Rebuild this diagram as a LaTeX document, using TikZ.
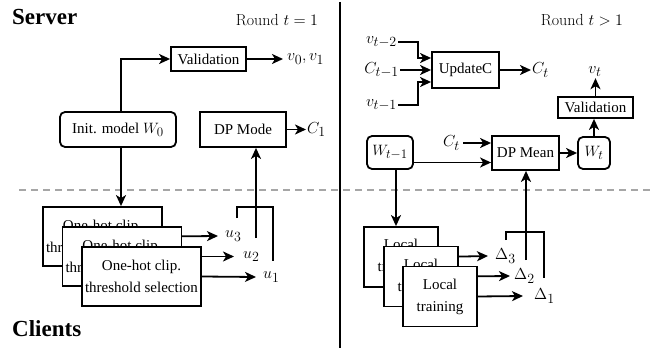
\RequirePackage{fix-cm}
\documentclass[tikz,border=0pt]{standalone}
\usepackage{fontspec}
\newfontfamily\boxfont{Liberation Serif}
\DeclareMathSizes{16}{16}{14}{11}
\DeclareMathSizes{15}{15}{13}{10}
\usetikzlibrary{arrows.meta}
\tikzset{
  ln/.style={line width=1.8pt},
  arr/.style={ln, -{Stealth[length=11pt,width=10pt,inset=3pt]}},
  bx/.style={draw, ln, fill=white, font={\boxfont\fontsize{15}{22}\selectfont}, align=center, inner sep=0pt},
  rbx/.style={bx, rounded corners=5pt},
  lbl/.style={font={\fontsize{16}{18}\selectfont}, inner sep=1pt},
  ttl/.style={font={\boxfont\bfseries\fontsize{23}{26}\selectfont}, inner sep=0pt},
  rnd/.style={font={\fontsize{16}{18}\selectfont}, inner sep=0pt},
  sepline/.style={line width=1.8pt},
  divline/.style={line width=1.5pt, gray!70, dash pattern=on 7pt off 5pt},
}
\begin{document}
\begin{tikzpicture}[x=1pt,y=-1pt]
\useasboundingbox (0,0) rectangle (651,350);
% titles
\node[ttl, anchor=west] (srv) at (12,17) {Server};
\node[ttl, anchor=west] (cli) at (12,329) {Clients};
\node[rnd] (r1) at (277,20) {Round $t=1$};
\node[rnd] (r2) at (582,20) {Round $t>1$};
% separators
\coordinate (septop) at (340,2);
\coordinate (sepbot) at (340,348);
\draw[sepline] (septop) -- (sepbot);
\coordinate (dvl) at (19,190);
\coordinate (dvr) at (651,190);
\draw[divline] (dvl) -- (dvr);

% ---------------- left: round t=1
\node[bx, minimum width=75pt, minimum height=24pt] (val1) at (208.5,59) {Validation};
\node[lbl, anchor=west] (v01) at (286,59) {$v_0, v_1$};
\draw[arr] (val1.east) -- ([xshift=-3pt]v01.west);
\node[rbx, minimum width=116pt, minimum height=35pt] (init) at (118,129.5) {Init. model $W_0$};
\node[bx, minimum width=86pt, minimum height=35pt] (dpm) at (243,129.5) {DP Mode};
\node[lbl, anchor=west] (c1) at (306,129.5) {$C_1$};
\draw[arr] (dpm.east) -- (c1.west);
\draw[arr] ([xshift=3pt]init.north) |- (val1.west);

\node[bx, minimum width=119pt, minimum height=59pt] (ob1) at (102.5,236.5) {One-hot clip.\\threshold selection};
\draw[arr] ([xshift=3pt]init.south) -- ([xshift=3pt]init.south |- ob1.north);
\node[lbl, anchor=west] (u3) at (224,236) {$u_3$};
\draw[arr] (ob1.east) -- ([xshift=-6pt]u3.west);
\node[bx, minimum width=119pt, minimum height=59pt] (ob2) at (122,256.5) {One-hot clip.\\threshold selection};
\node[lbl, anchor=west] (u2) at (242,256.5) {$u_2$};
\draw[arr] (ob2.east) -- ([xshift=-8pt]u2.west);
\node[bx, minimum width=119pt, minimum height=59pt] (ob3) at (141.5,276.5) {One-hot clip.\\threshold selection};
\node[lbl, anchor=west] (u1) at (262,277) {$u_1$};
\draw[arr] (ob3.east) -- ([xshift=-6pt]u1.west);

\coordinate (bkl) at (237,218);
\coordinate (bktl) at (237,207);
\coordinate (bktr) at (273,207);
\coordinate (bkr) at (273,261);
\coordinate (bkm) at (256,238);
\draw[ln] (bkl) -- (bktl) -- (bktr) -- (bkr);
\draw[arr] (bkm) -- (bkm |- dpm.south);

% ---------------- right: round t>1
\node[bx, minimum width=67pt, minimum height=36pt] (upd) at (465.5,70) {UpdateC};
\node[lbl, anchor=east] (vt2) at (398,42) {$v_{t-2}$};
\node[lbl, anchor=east] (ct1) at (400,70) {$C_{t-1}$};
\node[lbl, anchor=east] (vt1) at (398,105) {$v_{t-1}$};
\draw[arr] (vt2.east) -- ++(20,0) |- ([yshift=12pt]upd.west);
\draw[arr] (ct1.east) -- (upd.west);
\draw[arr] (vt1.east) -- ++(20,0) |- ([yshift=-12pt]upd.west);
\node[lbl, anchor=west] (ct) at (531,70) {$C_t$};
\draw[arr] (upd.east) -- (ct.west);

\node[bx, minimum width=75pt, minimum height=21pt] (val2) at (595.5,107.5) {Validation};
\node[lbl] (vt) at (595,72) {$v_t$};
\draw[arr] (val2.north) -- (val2.north |- vt.south);
\node[rbx, minimum width=32pt, minimum height=32pt] (wt) at (594,153) {$W_t$};
\draw[arr] (wt.north) -- (wt.north |- val2.south);
\node[bx, minimum width=67pt, minimum height=34pt] (dpmean) at (525.5,153) {DP Mean};
\draw[arr] (dpmean.east) -- (wt.west);
\node[rbx, minimum width=46pt, minimum height=33pt] (wt1) at (390,152.5) {$W_{t-1}$};
\node[lbl, anchor=east] (ct2) at (461,143) {$C_t$};
\draw[arr] ([xshift=2pt]ct2.east) -- (ct2.east -| dpmean.west);
\draw[arr] ([yshift=-10pt]wt1.east) -- ([yshift=-10pt]wt1.east -| dpmean.west);

\node[bx, minimum width=74pt, minimum height=60pt] (lt1) at (401,257) {Local\\training};
\draw[arr] ([xshift=6pt]wt1.south) -- ([xshift=6pt]wt1.south |- lt1.north);
\node[lbl, anchor=west] (d3) at (494,256) {$\Delta_3$};
\draw[arr] (lt1.east) -- ([xshift=-6pt]d3.west);
\node[bx, minimum width=74pt, minimum height=60pt] (lt2) at (421,276.5) {Local\\training};
\node[lbl, anchor=west] (d2) at (513,276) {$\Delta_2$};
\draw[arr] (lt2.east) -- ([xshift=-3pt]d2.west);
\node[bx, minimum width=74pt, minimum height=60pt] (lt3) at (440,296.5) {Local\\training};
\node[lbl, anchor=west] (d1) at (533,296) {$\Delta_1$};
\draw[arr] (lt3.east) -- ([xshift=-10pt]d1.west);

\coordinate (dkl) at (506,240);
\coordinate (dktl) at (506,232);
\coordinate (dktr) at (544,232);
\coordinate (dkr) at (544,278);
\coordinate (dkm) at (526,260);
\draw[ln] (dkl) -- (dktl) -- (dktr) -- (dkr);
\draw[arr] (dkm) -- (dkm |- dpmean.south);
\end{tikzpicture}
\end{document}
